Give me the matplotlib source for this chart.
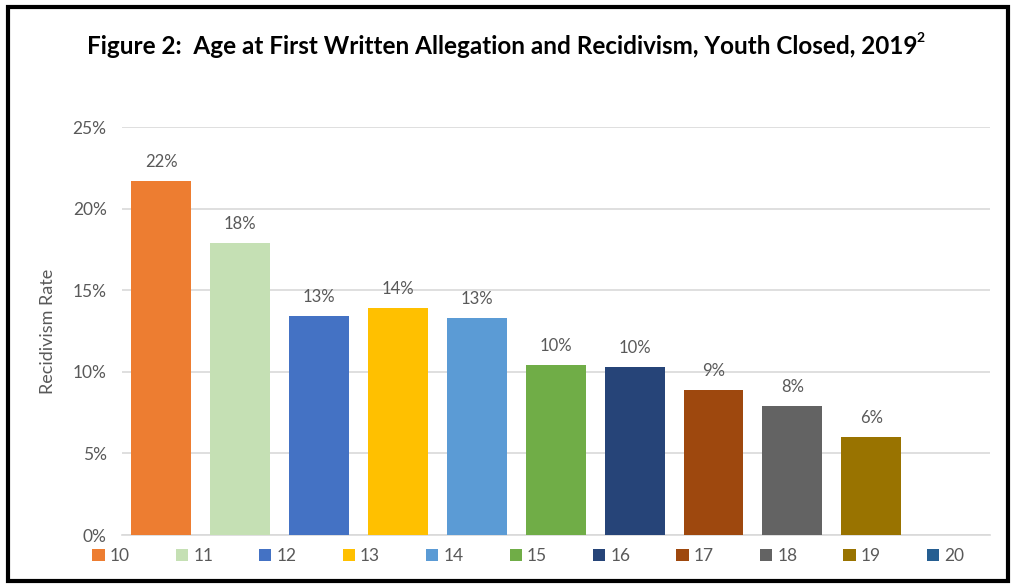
"""
Figure 2: age at first written allegation vs recidivism rate (youth closed, 2019).
Recreated bar chart, saved to out.png.
"""
import matplotlib
matplotlib.use("Agg")
import matplotlib.pyplot as plt
from matplotlib.patches import Rectangle, Patch
import numpy as np

# data
ages = ["10", "11", "12", "13", "14", "15", "16", "17", "18", "19", "20"]
rates = [0.217, 0.179, 0.134, 0.139, 0.133, 0.104, 0.103, 0.089, 0.079, 0.060, np.nan]
yticks = [0.0, 0.05, 0.10, 0.15, 0.20, 0.25]

COLORS = ["#ED7D31", "#C5E0B4", "#4472C4", "#FFC000", "#5B9BD5", "#70AD47",
          "#264478", "#9E480E", "#636363", "#997300", "#255E91"]
GREY = "#595959"

plt.rcParams["font.family"] = ["Lato", "DejaVu Sans"]

fig = plt.figure(figsize=(10.16, 5.86), dpi=100)
ax = fig.add_axes([0.120, 0.087, 0.854, 0.696])

x = np.arange(len(ages))
heights = np.nan_to_num(rates)
bars = ax.bar(x, heights, width=0.76, color=COLORS, zorder=3)
for xi, r in zip(x, rates):
    if np.isnan(r):
        continue
    ax.annotate(f"{r * 100:.0f}%", (xi, r), xytext=(0, 8), textcoords="offset points",
                ha="center", va="bottom", fontsize=12, color=GREY)

ax.set_xlim(-0.5, len(ages) - 0.5)
ax.set_ylim(0, 0.25)
ax.set_yticks(yticks)
ax.set_yticklabels([f"{t * 100:.0f}%" for t in yticks], fontsize=12.5, color=GREY)
ax.set_xticks([])
ax.tick_params(axis="y", length=0, pad=11)
ax.grid(axis="y", color="#D9D9D9", lw=1.2, zorder=0)
for s in ["top", "right", "left"]:
    ax.spines[s].set_visible(False)
ax.spines["bottom"].set_color("#D9D9D9")
ax.spines["bottom"].set_linewidth(1.2)
ax.set_ylabel("Recidivism Rate", fontsize=13, color=GREY, labelpad=12)

# title, with a small raised footnote mark after it
title = fig.text(0.494, 0.921,
                 "Figure 2:  Age at First Written Allegation and Recidivism, Youth Closed, 2019",
                 ha="center", va="center", fontsize=17.5, fontweight="bold", color="black")
renderer = fig.canvas.get_renderer()
bb = title.get_window_extent(renderer).transformed(fig.transFigure.inverted())
fig.text(bb.x1 - 0.001, bb.y1 + 0.004, "2", ha="left", va="top",
         fontsize=10, fontweight="bold", color="black")

handles = [Patch(facecolor=c, edgecolor="none") for c in COLORS]
fig.legend(handles, ages, loc="center", bbox_to_anchor=(0.52, 0.051), ncol=len(ages),
           frameon=False, handlelength=0.7, handleheight=0.7, handletextpad=0.3,
           columnspacing=2.65, fontsize=12.5, labelcolor=GREY)

# thick black frame around the whole figure
fig.patches.append(Rectangle((0.008, 0.008), 0.984, 0.98, transform=fig.transFigure,
                             fill=False, edgecolor="black", lw=3))

fig.savefig("out.png", dpi=100)
